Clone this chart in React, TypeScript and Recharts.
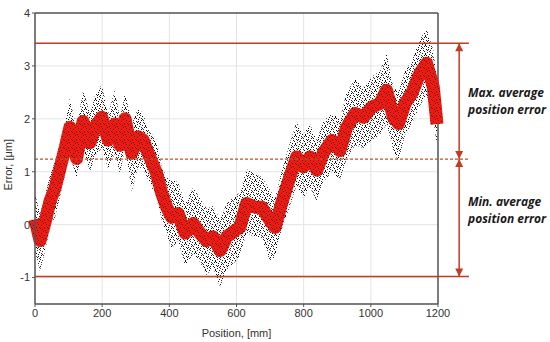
import React from 'react';
import { ComposedChart, Area, Line, XAxis, YAxis, CartesianGrid, ReferenceLine } from 'recharts';

// Position along the axis, mm
const position = [
  0, 15, 30, 45, 60, 75, 90, 104, 124, 143, 164, 179, 199, 218, 238, 253, 268, 288, 307, 322,
  337, 362, 377, 392, 407, 426, 447, 471, 491, 511, 530, 551, 571, 596, 610, 630, 655, 675, 700, 715,
  734, 759, 779, 799, 819, 839, 858, 884, 908, 928, 953, 978, 1003, 1027, 1047, 1067, 1082, 1102, 1122, 1146,
  1166, 1186, 1197,
];

// Averaged error (red trace), um
const meanError = [
  0.1, -0.3, 0.05, 0.45, 0.7, 1.08, 1.45, 1.84, 1.25, 1.95, 1.55, 1.85, 2.03, 1.6, 1.9, 1.5, 2.0, 1.35, 1.66, 1.6,
  1.35, 0.97, 0.6, 0.33, 0.14, 0.21, -0.16, 0.02, -0.16, -0.3, -0.23, -0.49, -0.23, -0.11, -0.05, 0.4, 0.33, 0.33, 0.08, -0.05,
  0.4, 0.9, 1.28, 1.09, 1.28, 1.03, 1.35, 1.59, 1.4, 1.84, 2.1, 2.03, 2.22, 2.29, 2.54, 2.03, 1.91, 2.29, 2.48, 2.86,
  3.05, 2.6, 1.9,
];

// Upper / lower edge of the raw measurement cloud, um
const cloudHigh = [
  0.6, 0.2, 0.55, 0.95, 1.2, 1.55, 1.95, 2.4, 1.8, 2.55, 2.1, 2.45, 2.65, 2.1, 2.55, 2.0, 2.5, 1.9, 2.2, 2.1,
  1.8, 1.6, 1.1, 0.9, 0.85, 0.8, 0.4, 0.7, 0.5, 0.3, 0.35, 0.1, 0.4, 0.55, 0.6, 1.05, 0.95, 0.9, 0.65, 0.5,
  1.0, 1.55, 1.95, 1.7, 1.9, 1.6, 1.95, 2.1, 2.0, 2.5, 2.75, 2.6, 2.8, 2.9, 3.25, 2.6, 2.5, 2.9, 3.1, 3.5,
  3.7, 3.3, 2.7,
];
const cloudLow = [
  -0.5, -0.88, -0.5, -0.05, 0.15, 0.55, 0.95, 1.3, 0.88, 1.45, 1.0, 1.3, 1.45, 1.05, 1.35, 0.95, 1.45, 0.62, 1.1, 1.05,
  0.85, 0.5, 0.1, -0.2, -0.45, -0.3, -0.78, -0.55, -0.7, -0.95, -0.8, -1.18, -0.85, -0.7, -0.6, -0.15, -0.25, -0.25, -0.7, -0.6,
  -0.1, 0.35, 0.75, 0.5, 0.7, 0.45, 0.8, 1.0, 0.85, 1.25, 1.5, 1.45, 1.6, 1.7, 1.9, 1.4, 1.2, 1.7, 1.9, 2.25,
  2.45, 2.0, 1.5,
];

const xTicks = [0, 200, 400, 600, 800, 1000, 1200];
const yTicks = [-1, 0, 1, 2, 3, 4];

const maxAvgError = 3.43;
const midError = 1.24;
const minAvgError = -0.98;
const arrowX = 1263;
const lineEndX = 1292;

const data = position.map((p, i) => ({
  pos: p,
  mean: meanError[i],
  cloud: [cloudLow[i], cloudHigh[i]],
}));

const RED = '#c23b22';
const FRAME = '#555';

const ArrowShape = (props: any) => {
  const { x1, y1, x2, y2 } = props;
  const dir = y2 > y1 ? 1 : -1;
  const h = 8;
  const w = 4;
  return (
    <g>
      <line x1={x1} y1={y1} x2={x2} y2={y2} stroke={RED} strokeWidth={1.5} />
      <polygon points={`${x1},${y1} ${x1 - w},${y1 + dir * h} ${x1 + w},${y1 + dir * h}`} fill={RED} />
      <polygon points={`${x2},${y2} ${x2 - w},${y2 - dir * h} ${x2 + w},${y2 - dir * h}`} fill={RED} />
    </g>
  );
};

const noteStyle: React.CSSProperties = {
  position: 'absolute',
  left: 468,
  fontFamily: '"Open Sans", sans-serif',
  fontWeight: 700,
  fontStyle: 'italic',
  fontSize: 12,
  lineHeight: '17px',
  color: '#1a1a1a',
  whiteSpace: 'nowrap',
};

// speckle dots for the raw-data cloud and the red band (texture only)
const cloudDots = [
  [1, 1], [5, 0], [8, 2], [3, 3], [6, 4], [0, 5], [9, 6], [4, 6], [2, 8], [7, 7], [6, 1], [1, 3],
  [3, 5], [8, 4], [5, 8], [0, 7], [9, 0], [7, 5], [2, 2], [4, 1],
];
const redDots = [[1, 1], [4, 3], [2, 5], [6, 0], [5, 6], [0, 4], [7, 3], [3, 7]];

export default function App() {
  return (
    <div style={{ position: 'absolute', left: 0, top: 0, width: 550, height: 342, overflow: 'hidden', background: '#fff' }}>
      <ComposedChart
        width={550}
        height={342}
        data={data}
        margin={{ top: 13, right: 112, bottom: 0, left: 8 }}
        style={{ fontFamily: '"Liberation Sans", Arial, sans-serif' }}
      >
        <defs>
          <pattern id="speckle" width="10" height="9" patternUnits="userSpaceOnUse">
            {cloudDots.map(([x, y], i) => (
              <rect key={i} x={x} y={y} width="1" height="1" fill={i % 3 === 0 ? '#333' : '#111'} />
            ))}
          </pattern>
          <pattern id="redband" width="8" height="8" patternUnits="userSpaceOnUse">
            <rect x="0" y="0" width="8" height="8" fill="#ee1a12" />
            {redDots.map(([x, y], i) => (
              <rect key={i} x={x} y={y} width="1" height="1" fill="#5a1a10" />
            ))}
          </pattern>
        </defs>
        <CartesianGrid stroke="#e4e4e4" />
        <XAxis
          dataKey="pos"
          type="number"
          domain={[0, 1200]}
          ticks={xTicks}
          tick={{ fontSize: 11, fill: '#333' }}
          tickSize={3}
          axisLine={{ stroke: FRAME, strokeWidth: 1.5 }}
          tickLine={{ stroke: FRAME }}
          height={38}
          label={{ value: 'Position, [mm]', position: 'insideBottom', offset: 5, fontSize: 11, fill: '#333' }}
        />
        <YAxis
          type="number"
          domain={[-1.5, 4]}
          ticks={yTicks}
          tick={{ fontSize: 11, fill: '#333' }}
          tickSize={3}
          width={27}
          axisLine={{ stroke: FRAME, strokeWidth: 1.5 }}
          tickLine={{ stroke: FRAME }}
          label={{ value: 'Error, [μm]', angle: -90, position: 'insideLeft', offset: 0, dy: 32, fontSize: 11, fill: '#333' }}
        />
        <ReferenceLine x={1200} stroke={FRAME} strokeWidth={1.5} />
        <ReferenceLine y={4} stroke={FRAME} strokeWidth={1.5} />
        <Area
          dataKey="cloud"
          type="linear"
          fill="url(#speckle)"
          fillOpacity={1}
          stroke="none"
          isAnimationActive={false}
        />
        <Line
          dataKey="mean"
          type="linear"
          stroke="url(#redband)"
          strokeWidth={13}
          strokeLinejoin="round"
          strokeLinecap="butt"
          dot={false}
          isAnimationActive={false}
        />
        <ReferenceLine
          segment={[{ x: 0, y: maxAvgError }, { x: lineEndX, y: maxAvgError }]}
          ifOverflow="visible"
          stroke={RED}
          strokeWidth={1.5}
        />
        <ReferenceLine
          segment={[{ x: 0, y: minAvgError }, { x: lineEndX, y: minAvgError }]}
          ifOverflow="visible"
          stroke={RED}
          strokeWidth={1.5}
        />
        <ReferenceLine
          segment={[{ x: 0, y: midError }, { x: lineEndX, y: midError }]}
          ifOverflow="visible"
          stroke="#b5562a"
          strokeWidth={1.2}
          strokeDasharray="3 2"
        />
        <ReferenceLine
          segment={[{ x: arrowX, y: maxAvgError }, { x: arrowX, y: midError }]}
          ifOverflow="visible"
          shape={ArrowShape}
        />
        <ReferenceLine
          segment={[{ x: arrowX, y: midError }, { x: arrowX, y: minAvgError }]}
          ifOverflow="visible"
          shape={ArrowShape}
        />
      </ComposedChart>
      <div style={{ ...noteStyle, top: 84 }}>Max. average<br />position error</div>
      <div style={{ ...noteStyle, top: 193 }}>Min. average<br />position error</div>
    </div>
  );
}
